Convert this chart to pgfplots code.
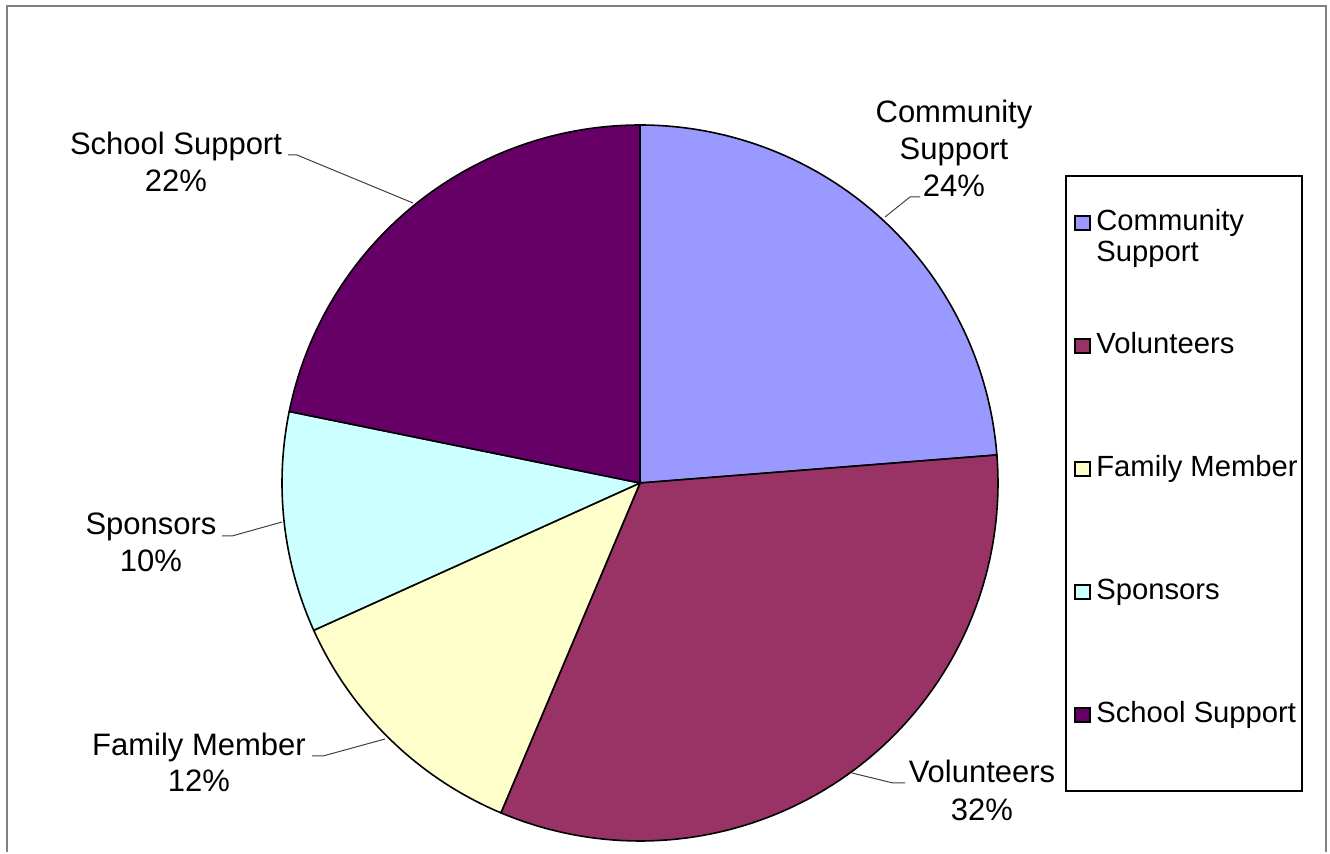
\documentclass[border=0pt]{standalone}
\usepackage{pgfplots}
\pgfplotsset{compat=1.18}
\usepackage{fontspec}
\setmainfont{Liberation Sans}
\definecolor{cCom}{HTML}{9999FF}
\definecolor{cVol}{HTML}{993366}
\definecolor{cFam}{HTML}{FFFFCC}
\definecolor{cSpo}{HTML}{CCFFFF}
\definecolor{cSch}{HTML}{660066}
\def\cx{640}\def\cy{369}\def\R{358}
% shares in percent
\def\vCom{23.75}\def\vVol{32.6}\def\vFam{11.9}\def\vSpo{9.95}\def\vSch{21.8}
\newcommand\lblfont{\fontsize{15.5}{18.5}\selectfont}
\newcommand\legfont{\fontsize{14.6}{17}\selectfont}
\newcommand\slice[3]{% share before, share, colour
  \pgfmathsetmacro\aend{90-3.6*(#1)}\pgfmathsetmacro\astart{90-3.6*(#1+#2)}%
  \addplot[draw=black, line width=0.8pt, fill=#3, domain=\astart:\aend, samples=90, variable=\t]
    ({\cx+\R*cos(\t)},{\cy+\R*sin(\t)}) -- (axis cs:\cx,\cy) -- cycle;
}
\newcommand\lbl[3]{\node[anchor=base,font=\lblfont,inner sep=0pt] at (axis cs:#1,#2) {#3};}
\newcommand\legtxt[3]{\node[anchor=base west,font=\legfont,inner sep=0pt] at (axis cs:#1,#2) {#3};}
\newcommand\legbox[2]{\draw[black, line width=0.6pt, fill=#2] (axis cs:1075,#1+1) rectangle (axis cs:1090,#1+15);}
\begin{document}
\begin{tikzpicture}
\begin{axis}[x=0.5pt, y=0.5pt, xmin=0, xmax=1330, ymin=0, ymax=852,
  hide axis, clip=false]
\path (axis cs:0,0) rectangle (axis cs:1330,852);
% outer frame (bottom edge cut off)
\draw[gray, line width=1pt] (axis cs:7,0) -- (axis cs:7,846) -- (axis cs:1326,846) -- (axis cs:1326,0);
% slices, clockwise from 12 o'clock
\slice{0}{\vCom}{cCom}
\slice{\vCom}{\vVol}{cVol}
\slice{\vCom+\vVol}{\vFam}{cFam}
\slice{\vCom+\vVol+\vFam}{\vSpo}{cSpo}
\slice{\vCom+\vVol+\vFam+\vSpo}{\vSch}{cSch}
% leader lines
\addplot[black!75, line width=0.5pt, forget plot] coordinates {(920,655) (910,655) (885,635)};
\addplot[black!75, line width=0.5pt, forget plot] coordinates {(288,697) (297,697) (413,649)};
\addplot[black!75, line width=0.5pt, forget plot] coordinates {(222,316) (232,316) (282,330)};
\addplot[black!75, line width=0.5pt, forget plot] coordinates {(312,96) (323,96) (385,113)};
\addplot[black!75, line width=0.5pt, forget plot] coordinates {(905,69) (893,69) (852,79)};
% data labels
\lbl{954}{729}{Community}
\lbl{954}{692}{Support}
\lbl{954}{655}{24\%}
\lbl{176}{697}{School Support}
\lbl{176}{660}{22\%}
\lbl{151}{317}{Sponsors}
\lbl{151}{280}{10\%}
\lbl{199}{96}{Family Member}
\lbl{199}{60}{12\%}
\lbl{982}{69}{Volunteers}
\lbl{982}{32}{32\%}
% legend
\draw[black, line width=0.6pt] (axis cs:1066,61) rectangle (axis cs:1302,676);
\legbox{621}{cCom}\legtxt{1096}{621}{Community}\legtxt{1096}{590}{Support}
\legbox{498}{cVol}\legtxt{1096}{498}{Volunteers}
\legbox{375}{cFam}\legtxt{1096}{375}{Family Member}
\legbox{252}{cSpo}\legtxt{1096}{252}{Sponsors}
\legbox{129}{cSch}\legtxt{1096}{129}{School Support}
\end{axis}
\end{tikzpicture}
\end{document}
